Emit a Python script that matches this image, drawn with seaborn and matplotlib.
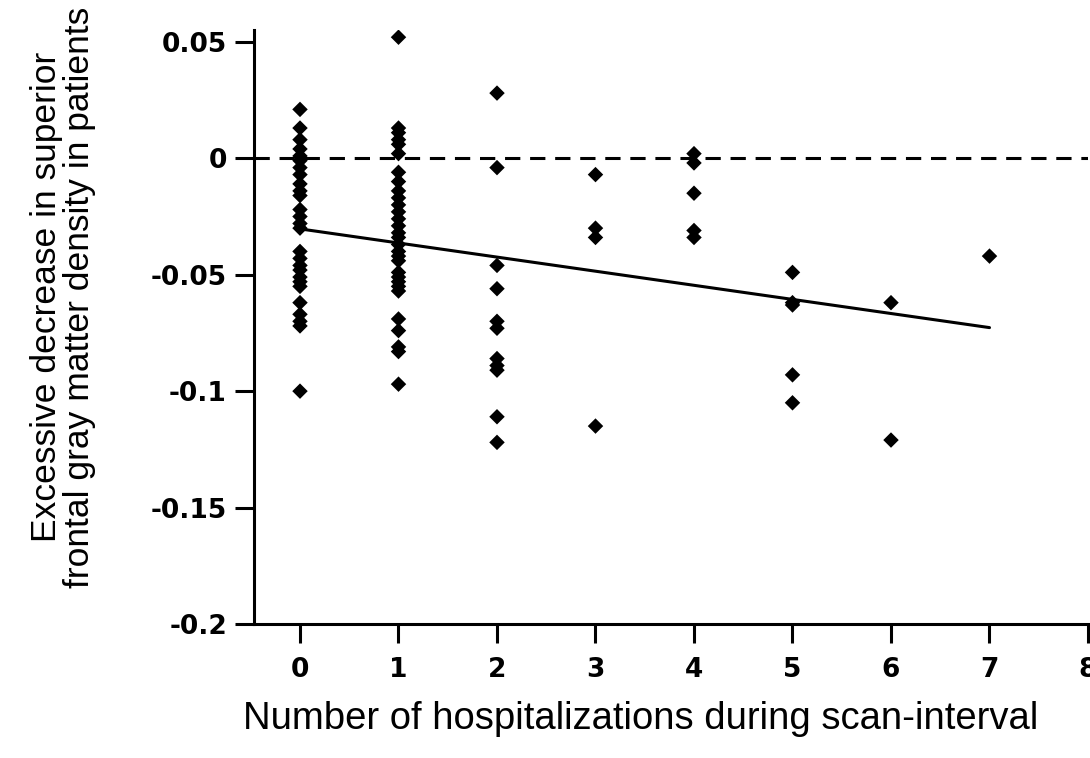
import numpy as np
import pandas as pd
import matplotlib
matplotlib.use("Agg")
import matplotlib.pyplot as plt
import seaborn as sns

# Data (values per number of hospitalizations)
hosp_0 = [0.021, 0.013, 0.008, 0.004, 0.001, -0.001, -0.004, -0.007, -0.011, -0.014,
          -0.016, -0.022, -0.025, -0.028, -0.030, -0.040, -0.043, -0.046, -0.048,
          -0.051, -0.053, -0.055, -0.062, -0.067, -0.070, -0.072, -0.100]
hosp_1 = [0.052, 0.013, 0.011, 0.008, 0.006, 0.002, -0.006, -0.010, -0.014, -0.017,
          -0.020, -0.023, -0.026, -0.029, -0.032, -0.034, -0.037, -0.040, -0.042,
          -0.044, -0.049, -0.051, -0.053, -0.055, -0.057, -0.069, -0.074, -0.081,
          -0.083, -0.097]
hosp_2 = [0.028, -0.004, -0.046, -0.056, -0.070, -0.073, -0.086, -0.089, -0.091,
          -0.111, -0.122]
hosp_3 = [-0.007, -0.030, -0.034, -0.115]
hosp_4 = [0.002, -0.002, -0.015, -0.031, -0.034]
hosp_5 = [-0.049, -0.062, -0.063, -0.093, -0.105]
hosp_6 = [-0.062, -0.121]
hosp_7 = [-0.042]

groups = [hosp_0, hosp_1, hosp_2, hosp_3, hosp_4, hosp_5, hosp_6, hosp_7]
x_ticks = [0, 1, 2, 3, 4, 5, 6, 7, 8]
y_ticks = [-0.2, -0.15, -0.1, -0.05, 0, 0.05]
y_ticklabels = ["-0.2", "-0.15", "-0.1", "-0.05", "0", "0.05"]

df = pd.DataFrame({
    "hospitalizations": np.concatenate([[i] * len(g) for i, g in enumerate(groups)]),
    "density": np.concatenate(groups),
})

sns.set_style("ticks")
plt.rcParams["text.color"] = "black"
plt.rcParams["axes.labelcolor"] = "black"
plt.rcParams["xtick.color"] = "black"
plt.rcParams["ytick.color"] = "black"

W, H = 1090, 758
left_px, right_px, top_px, bottom_px = 254, 1088, 30, 624
fig = plt.figure(figsize=(W / 100, H / 100), dpi=100)
ax = fig.add_axes([left_px / W, 1 - bottom_px / H, (right_px - left_px) / W,
                   (bottom_px - top_px) / H])

sns.regplot(data=df, x="hospitalizations", y="density", ax=ax, ci=None, truncate=True,
            marker="D",
            scatter_kws=dict(s=62, color="black", alpha=1, edgecolor="none",
                             linewidths=0, zorder=3),
            line_kws=dict(color="black", linewidth=2.2, zorder=2))

ax.axhline(0, color="black", linewidth=2.2, dashes=(5, 3.2), zorder=1)

ax.set_xlim(-0.467, 8)
ax.set_ylim(-0.2, 0.0551)
ax.set_xticks(x_ticks)
ax.set_xticklabels([str(t) for t in x_ticks])
ax.set_yticks(y_ticks)
ax.set_yticklabels(y_ticklabels)

for s in ["top", "right"]:
    ax.spines[s].set_visible(False)
for s in ["left", "bottom"]:
    ax.spines[s].set_linewidth(2.2)
    ax.spines[s].set_color("black")

ax.tick_params(axis="both", which="major", length=14, width=2.2, color="black",
               direction="out", labelsize=19, labelcolor="black")
ax.tick_params(axis="x", pad=10)
ax.tick_params(axis="y", pad=5.5)
for lab in ax.get_xticklabels() + ax.get_yticklabels():
    lab.set_fontweight("bold")
    lab.set_family("DejaVu Sans")

ax.set_xlabel("Number of hospitalizations during scan-interval",
              fontsize=27.5, family="Liberation Sans", color="black")
ax.xaxis.set_label_coords(0.463, -0.13)
ax.set_ylabel("Excessive decrease in superior\nfrontal gray matter density in patients",
              fontsize=25.5, family="Liberation Sans", color="black", linespacing=1.0)
ax.yaxis.set_label_coords(-0.19, 0.55)

fig.savefig("out.png", dpi=100)
